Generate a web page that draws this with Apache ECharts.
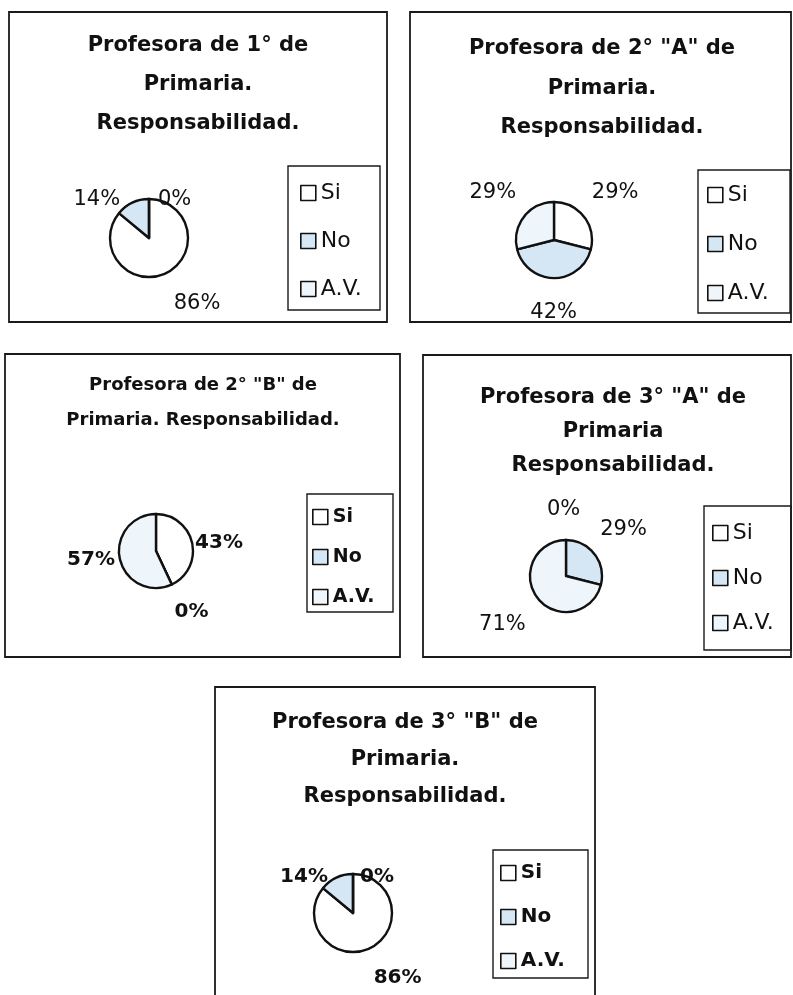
<!DOCTYPE html>
<html>
<head>
<meta charset="utf-8">
<script src="https://cdn.jsdelivr.net/npm/echarts@6/dist/echarts.min.js"></script>
<style>
  html, body { margin: 0; padding: 0; background: #fff; }
  #main { width: 793px; height: 995px; }
</style>
</head>
<body>
<div id="main"></div>
<script>
// categories / data
var categories = ['Si', 'No', 'A.V.'];
var titles = [
    'Profesora de 1° de\nPrimaria.\nResponsabilidad.',
    'Profesora de 2° "A" de\nPrimaria.\nResponsabilidad.',
    'Profesora de 2° "B" de\nPrimaria. Responsabilidad.',
    'Profesora de 3° "A" de\nPrimaria\nResponsabilidad.',
    'Profesora de 3° "B" de\nPrimaria.\nResponsabilidad.'
];
var prim1 = [86, 14, 0];
var prim2A = [29, 42, 29];
var prim2B = [43, 0, 57];
var prim3A = [0, 29, 71];
var prim3B = [86, 14, 0];
var values = [prim1, prim2A, prim2B, prim3A, prim3B];

var colors = ['#ffffff', '#d5e7f4', '#eef5fb'];
var FONT = 'DejaVu Sans';

// panel layout: box, title, pie, legend; lab = [labelLine length, length2] per category
var panels = [
    {box: [9, 12, 378, 310], tx: 198, ty: 26, lh: 39, tsize: 21, pie: [149, 238], r: 39,
     lbox: [288, 166, 92, 144], lx: 300, ly: 193, lgap: 48, lsize: 22, bold: false, fsize: 21,
     lab: [[33, -11], [3, 6], [-1, 4]]},
    {box: [410, 12, 381, 310], tx: 602, ty: 29, lh: 39.5, tsize: 21, pie: [554, 240], r: 38,
     lbox: [698, 170, 92, 143], lx: 707, ly: 195, lgap: 49, lsize: 22, bold: false, fsize: 21,
     lab: [[39, -28], [35, -28], [39, -28]]},
    {box: [5, 354, 395, 303], tx: 203, ty: 368, lh: 35, tsize: 18, pie: [156, 551], r: 37,
     lbox: [307, 494, 86, 118], lx: 312, ly: 517, lgap: 40, lsize: 19, bold: true, fsize: 20,
     lab: [[0, -2], [30, -15], [2, -2]]},
    {box: [423, 355, 368, 302], tx: 613, ty: 381, lh: 34, tsize: 21, pie: [566, 576], r: 36,
     lbox: [704, 506, 87, 144], lx: 712, ly: 533, lgap: 45, lsize: 22, bold: false, fsize: 21,
     lab: [[30, -24], [39, -30], [44, -28]]},
    {box: [215, 687, 380, 320], tx: 405, ty: 704, lh: 37, tsize: 21, pie: [353, 913], r: 39,
     lbox: [493, 850, 95, 128], lx: 500, ly: 873, lgap: 44, lsize: 20, bold: true, fsize: 20,
     lab: [[33, -15], [1, 3], [-3, 2]]}
];

var chart = echarts.init(document.getElementById('main'));

var title = [], legend = [], series = [], graphic = [];

panels.forEach(function (p, i) {
    graphic.push({
        type: 'rect',
        shape: {x: p.box[0], y: p.box[1], width: p.box[2], height: p.box[3]},
        style: {fill: null, stroke: '#1a1a1a', lineWidth: 1.8},
        z: -1
    });
    graphic.push({
        type: 'rect',
        shape: {x: p.lbox[0], y: p.lbox[1], width: p.lbox[2], height: p.lbox[3]},
        style: {fill: null, stroke: '#1a1a1a', lineWidth: 1.4},
        z: -1
    });
    title.push({
        text: titles[i],
        left: p.tx,
        top: p.ty,
        textAlign: 'center',
        padding: 0,
        textStyle: {
            fontFamily: FONT,
            fontWeight: 'bold',
            fontSize: p.tsize,
            lineHeight: p.lh,
            color: '#111'
        }
    });
    legend.push({
        orient: 'vertical',
        left: p.lx,
        top: p.ly - 12,
        padding: 0,
        icon: 'rect',
        itemWidth: 15,
        itemHeight: 15,
        itemGap: p.lgap - 24,
        data: categories,
        selectedMode: false,
        itemStyle: {borderColor: '#111', borderWidth: 1.6},
        textStyle: {
            fontFamily: FONT,
            fontSize: p.lsize,
            fontWeight: p.bold ? 'bold' : 'normal',
            lineHeight: 24,
            color: '#111'
        }
    });

    series.push({
        name: 'p' + (i + 1),
        type: 'pie',
        center: p.pie,
        radius: p.r,
        // a hair off 90 so zero slices at the top get their label on the right
        startAngle: 89.999,
        clockwise: true,
        avoidLabelOverlap: false,
        labelLayout: {hideOverlap: false},
        silent: true,
        itemStyle: {borderColor: '#111', borderWidth: 2.4},
        label: {
            show: true,
            position: 'outside',
            formatter: '{d}%',
            fontFamily: FONT,
            fontSize: p.fsize,
            fontWeight: p.bold ? 'bold' : 'normal',
            color: '#111'
        },
        data: categories.map(function (c, k) {
            return {
                name: c,
                value: values[i][k],
                itemStyle: {color: colors[k]},
                labelLine: {show: false, length: p.lab[k][0], length2: p.lab[k][1]}
            };
        })
    });
});

chart.setOption({
    backgroundColor: '#fff',
    animation: false,
    title: title,
    legend: legend,
    graphic: graphic,
    series: series
});
</script>
</body>
</html>
